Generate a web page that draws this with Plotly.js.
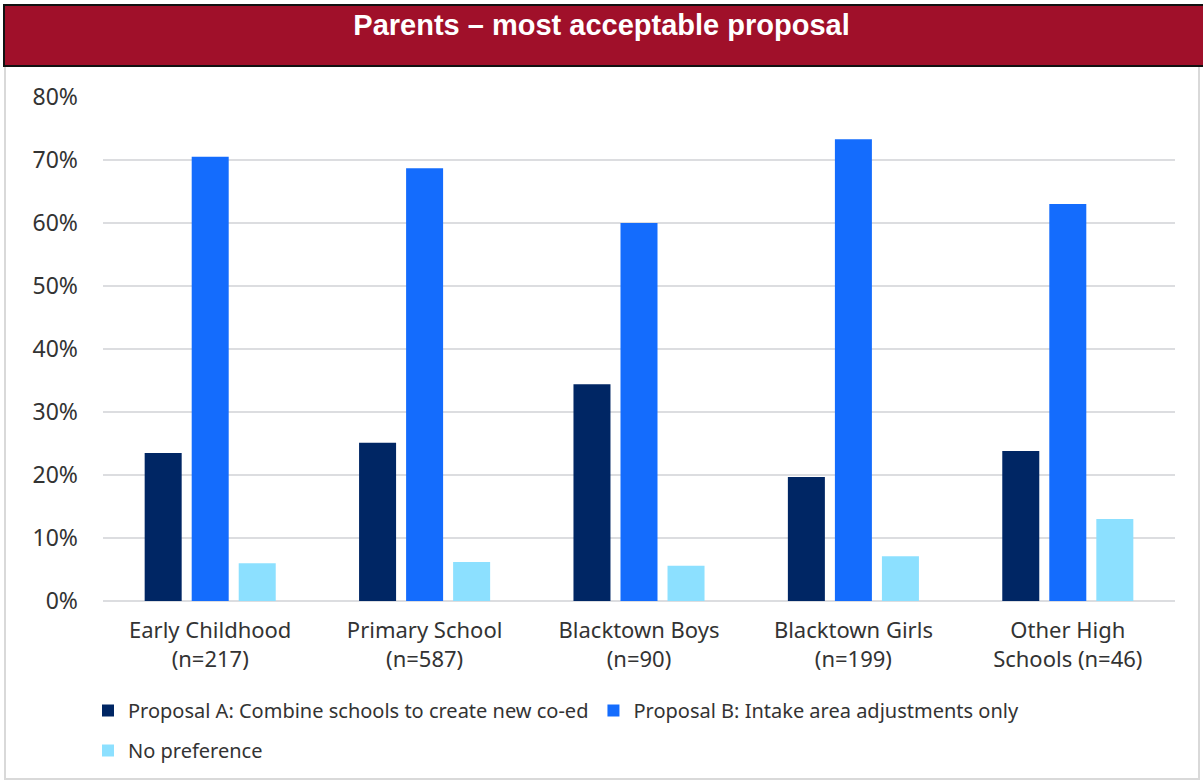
<!DOCTYPE html>
<html><head><meta charset="utf-8">
<script src="https://cdn.plot.ly/plotly-3.0.1.min.js"></script>
<style>html,body{margin:0;padding:0;background:#fff}#chart{width:1203px;height:780px}</style>
</head><body><div id="chart"></div>
<script>
const categories = ["Early Childhood<br>(n=217)", "Primary School<br>(n=587)", "Blacktown Boys<br>(n=90)", "Blacktown Girls<br>(n=199)", "Other High<br>Schools (n=46)"];
const proposalA = [23.5, 25.1, 34.4, 19.7, 23.8];
const proposalB = [70.5, 68.7, 60.0, 73.3, 63.0];
const noPref = [6.0, 6.2, 5.6, 7.1, 13.0];
const seriesNames = ["Proposal A: Combine schools to create new co-ed", "Proposal B: Intake area adjustments only", "No preference"];
const tickVals = [0, 10, 20, 30, 40, 50, 60, 70, 80];
const tickText = ["0%", "10%", "20%", "30%", "40%", "50%", "60%", "70%", "80%"];

const font = "'Noto Sans', Roboto, sans-serif";
const traces = [
  {type: "bar", x: categories, y: proposalA, name: seriesNames[0], marker: {color: "#002664"}, legend: "legend"},
  {type: "bar", x: categories, y: proposalB, name: seriesNames[1], marker: {color: "#146CFD"}, legend: "legend"},
  {type: "bar", x: categories, y: noPref, name: seriesNames[2], marker: {color: "#8CE0FF"}, legend: "legend2"}
];
const layout = {
  width: 1203, height: 780,
  margin: {l: 103, r: 28, t: 97, b: 179},
  paper_bgcolor: "#fff", plot_bgcolor: "#fff",
  barmode: "group", bargap: 0.342, bargroupgap: 0.213,
  title: {text: "<b>Parents – most acceptable proposal</b>", x: 0.5, xanchor: "center", y: 1 - 25/780, yanchor: "middle", yref: "container",
          font: {family: "'Liberation Sans', Arial, sans-serif", size: 29, color: "#fff"}},
  xaxis: {tickfont: {family: font, size: 22, color: "#333"}, showgrid: false, showline: false, ticks: "", ticklabelstandoff: 14, automargin: false, fixedrange: true},
  yaxis: {range: [0, 80], tickvals: tickVals, ticktext: tickText, tickfont: {family: font, size: 23, color: "#333"},
          showgrid: true, gridcolor: "#dcdde0", gridwidth: 1.5, zeroline: true, zerolinecolor: "#dcdde0", zerolinewidth: 1.5,
          ticks: "", ticklabelstandoff: 24, showline: false, automargin: false},
  showlegend: true,
  legend: {orientation: "h", xref: "container", yref: "container", x: 88/1203, xanchor: "left", y: 1 - 691/780, yanchor: "top", font: {family: font, size: 20, color: "#333"},
           itemwidth: 30, tracegroupgap: 0, bgcolor: "rgba(0,0,0,0)"},
  legend2: {orientation: "h", xref: "container", yref: "container", x: 88/1203, xanchor: "left", y: 1 - 731/780, yanchor: "top", font: {family: font, size: 20, color: "#333"},
           itemwidth: 30, bgcolor: "rgba(0,0,0,0)"},
  shapes: [
    {type: "rect", xref: "paper", yref: "paper", x0: (5-103)/1072, x1: (1199-103)/1072, y0: (601-779)/504, y1: (601-66)/504,
     line: {color: "#d9d9d9", width: 2}, fillcolor: "rgba(0,0,0,0)", layer: "below"},
    {type: "rect", xref: "paper", yref: "paper", x0: (4-103)/1072, x1: (1205-103)/1072, y0: (601-66)/504, y1: (601-5)/504,
     line: {color: "#111", width: 2}, fillcolor: "#A0102A", layer: "below"}
  ]
};
Plotly.newPlot("chart", traces, layout, {displayModeBar: false, staticPlot: true});
</script></body></html>
